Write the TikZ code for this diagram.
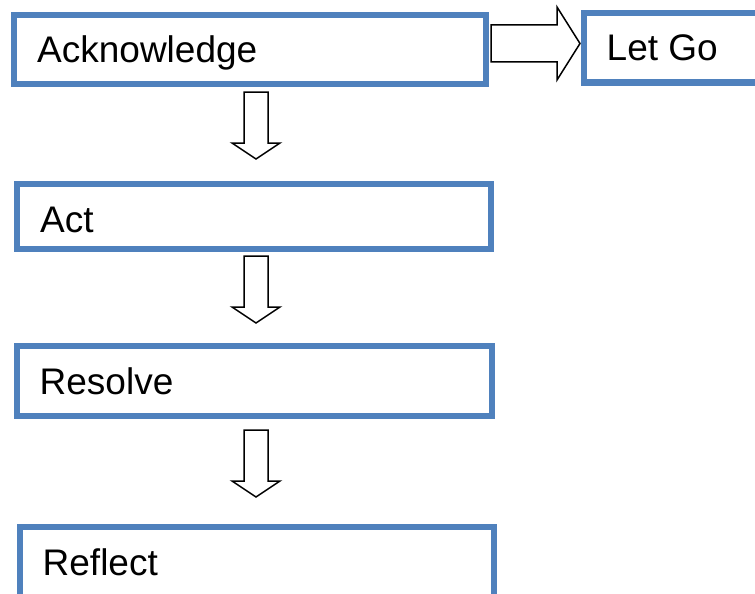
\documentclass[tikz,border=0pt]{standalone}
\usepackage{fontspec}
\setmainfont{Liberation Sans}
\definecolor{boxblue}{HTML}{4F81BD}
\begin{document}
\begin{tikzpicture}[x=1pt,y=-1pt,
  stagebox/.style={draw=boxblue,line width=6pt,rectangle,anchor=north west,
    inner sep=0pt,outer sep=0pt},
  stagetext/.style={anchor=base west,inner sep=0pt,
    font=\fontsize{37}{44}\selectfont},
  blockarrow/.style={draw=black,line width=1.5pt,fill=white,line join=miter},
  downarrow/.pic={\draw[blockarrow] (-12,0) -- (12,0) -- (12,51) -- (24,51)
      -- (0,67) -- (-24,51) -- (-12,51) -- cycle;}]
\useasboundingbox (0,0) rectangle (755,594);
\clip (0,0) rectangle (755,594);

% stage boxes
\node[stagebox,minimum width=472pt,minimum height=69pt] (ack) at (14,15) {};
\node[stagebox,minimum width=474pt,minimum height=65pt] (act) at (17,184) {};
\node[stagebox,minimum width=475pt,minimum height=70pt] (res) at (17,346) {};
\node[stagebox,minimum width=474pt,minimum height=100pt] (ref) at (20,527) {};
\node[stagebox,minimum width=220pt,minimum height=69.5pt] (let) at (584,13) {};

% labels
\node[stagetext] (ackt) at (37,63) {Acknowledge};
\node[stagetext] (actt) at (40,232) {Act};
\node[stagetext] (rest) at (39.5,394) {Resolve};
\node[stagetext] (reft) at (42.5,575) {Reflect};
\node[stagetext] (lett) at (606.5,61) {Let Go};

% block arrows between stages
\pic at (256,92) {downarrow};
\pic at (256,256) {downarrow};
\pic at (256,430) {downarrow};
\draw[blockarrow] (491,25) -- (557,25) -- (557,7) -- (580,43.5) -- (557,80)
  -- (557,62) -- (491,62) -- cycle;
\end{tikzpicture}
\end{document}
